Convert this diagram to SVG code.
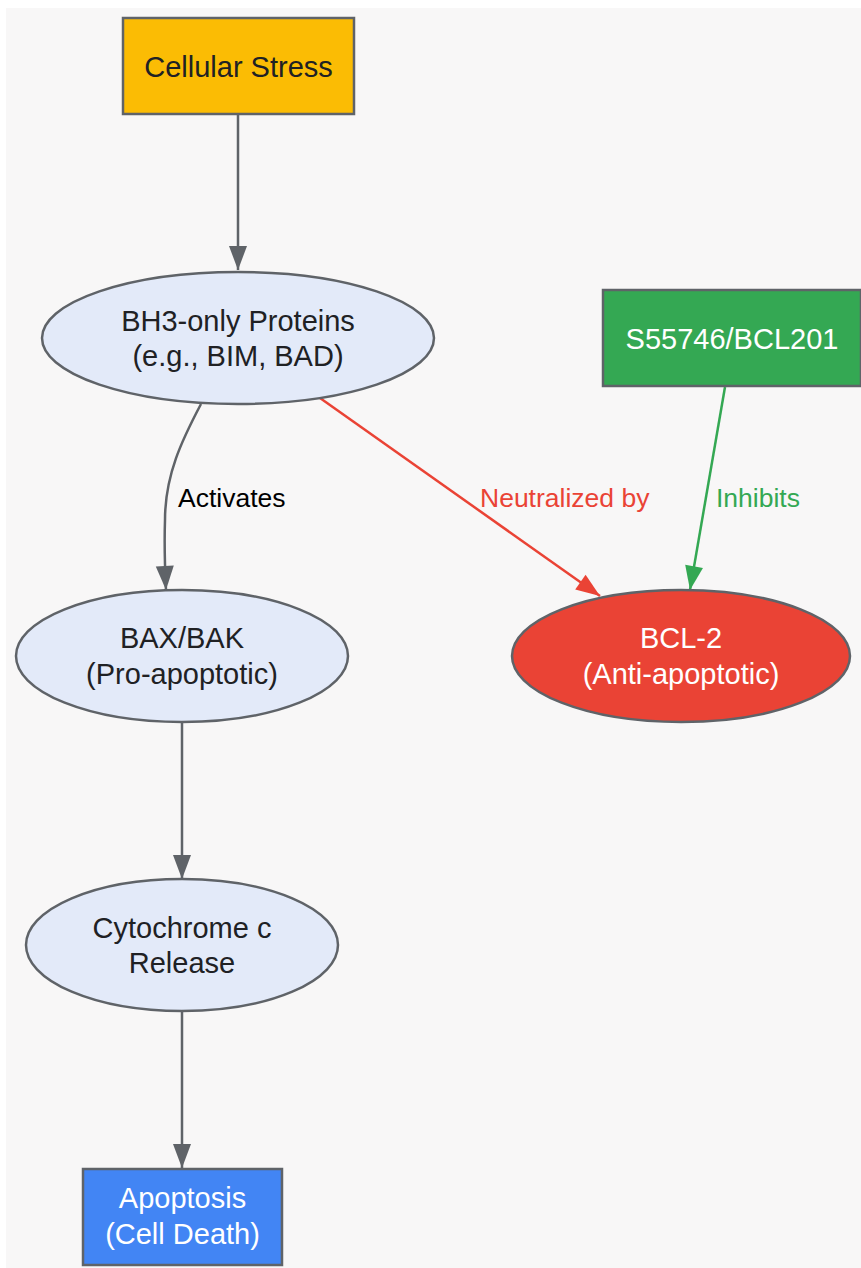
<svg xmlns="http://www.w3.org/2000/svg" width="861" height="1268" viewBox="0 0 861 1268">
<defs>
<style>
.t{font-family:"Liberation Sans",Arial,sans-serif;font-size:29px;text-anchor:middle}
.dk{fill:#202124}
.wh{fill:#ffffff}
.node{stroke:#5f6368;stroke-width:2.5}
.e{fill:none;stroke-width:2.5}
.lbl{font-family:"Liberation Sans",Arial,sans-serif;font-size:26.5px}
</style>
<marker id="ag" markerUnits="userSpaceOnUse" markerWidth="26" markerHeight="26" viewBox="0 0 26 26" refX="25" refY="13" orient="auto"><path d="M1,4 L25,13 L1,22 Z" fill="#5f6368"/></marker>
<marker id="ar" markerUnits="userSpaceOnUse" markerWidth="26" markerHeight="26" viewBox="0 0 26 26" refX="25" refY="13" orient="auto"><path d="M1,4 L25,13 L1,22 Z" fill="#ea4335"/></marker>
<marker id="agr" markerUnits="userSpaceOnUse" markerWidth="26" markerHeight="26" viewBox="0 0 26 26" refX="25" refY="13" orient="auto"><path d="M1,4 L25,13 L1,22 Z" fill="#34a853"/></marker>
</defs>
<rect x="6" y="8" width="855" height="1260" fill="#f8f7f7"/>
<g id="connectors">
<path class="e" stroke="#5f6368" d="M238,115 L238,270" marker-end="url(#ag)"/>
<path class="e" stroke="#5f6368" d="M201,404 C182,440 165,475 165,520 C164,550 165,570 166,590" marker-end="url(#ag)"/>
<text class="lbl" x="178" y="507" fill="#000000">Activates</text>
<path class="e" stroke="#ea4335" d="M320,398 L600,596" marker-end="url(#ar)"/>
<text class="lbl" x="480" y="507" fill="#ea4335">Neutralized by</text>
<path class="e" stroke="#34a853" d="M725,387 L690,590" marker-end="url(#agr)"/>
<text class="lbl" x="716" y="507" fill="#34a853">Inhibits</text>
<path class="e" stroke="#5f6368" d="M182,723 L182,879" marker-end="url(#ag)"/>
<path class="e" stroke="#5f6368" d="M182,1012 L182,1168" marker-end="url(#ag)"/>
</g>
<g id="cellular-stress">
<rect class="node" x="123" y="18" width="231" height="96" fill="#fbbc04"/>
<text class="t dk" x="238.5" y="76.5">Cellular Stress</text>
</g>
<g id="bh3">
<ellipse class="node" cx="238" cy="338" rx="196" ry="66" fill="#e3eaf9"/>
<text class="t dk" x="238" y="331">BH3-only Proteins</text>
<text class="t dk" x="238" y="366">(e.g., BIM, BAD)</text>
</g>
<g id="s55746">
<rect class="node" x="603" y="290" width="258" height="96" fill="#34a853"/>
<text class="t wh" x="732" y="348.5">S55746/BCL201</text>
</g>
<g id="bax">
<ellipse class="node" cx="182" cy="656" rx="166" ry="66" fill="#e3eaf9"/>
<text class="t dk" x="182" y="648">BAX/BAK</text>
<text class="t dk" x="182" y="684">(Pro-apoptotic)</text>
</g>
<g id="bcl2">
<ellipse class="node" cx="681" cy="656" rx="169" ry="66" fill="#ea4335"/>
<text class="t wh" x="681" y="648">BCL-2</text>
<text class="t wh" x="681" y="684">(Anti-apoptotic)</text>
</g>
<g id="cytochrome">
<ellipse class="node" cx="182" cy="945" rx="156" ry="66" fill="#e3eaf9"/>
<text class="t dk" x="182" y="938">Cytochrome c</text>
<text class="t dk" x="182" y="973">Release</text>
</g>
<g id="apoptosis">
<rect class="node" x="83" y="1169" width="199" height="96" fill="#4285f4"/>
<text class="t wh" x="182.5" y="1208">Apoptosis</text>
<text class="t wh" x="182.5" y="1244">(Cell Death)</text>
</g>
</svg>
